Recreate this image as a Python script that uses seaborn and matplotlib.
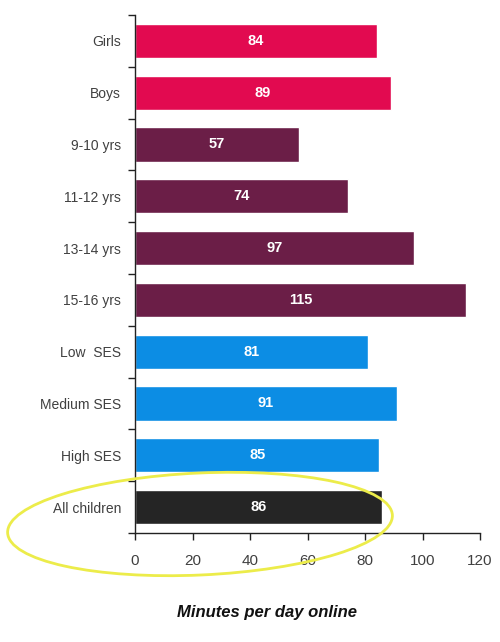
import matplotlib
matplotlib.use("Agg")
import matplotlib.pyplot as plt
from matplotlib.patches import Ellipse
import seaborn as sns
import pandas as pd

categories = ["Girls", "Boys", "9-10 yrs", "11-12 yrs", "13-14 yrs", "15-16 yrs",
              "Low  SES", "Medium SES", "High SES", "All children"]
minutes = [84, 89, 57, 74, 97, 115, 81, 91, 85, 86]
groups = ["Gender", "Gender", "Age", "Age", "Age", "Age", "SES", "SES", "SES", "All"]
group_colors = {"Gender": "#e20a50", "Age": "#6b1e47", "SES": "#0c8de4", "All": "#252525"}
x_ticks = [0, 20, 40, 60, 80, 100, 120]

df = pd.DataFrame({"category": categories, "minutes": minutes, "group": groups})

sns.set_style("white")
plt.rcParams["font.family"] = ["Liberation Sans", "DejaVu Sans"]

fig = plt.figure(figsize=(5.0, 6.42), dpi=100)
ax = fig.add_axes([0.27, 0.1698, 0.69, 0.807])

sns.barplot(data=df, x="minutes", y="category", hue="group", palette=group_colors,
            dodge=False, width=0.66, orient="h", legend=False, ax=ax,
            saturation=1, order=categories)

for cont in ax.containers:
    ax.bar_label(cont, label_type="center", color="white", fontsize=10.5,
                 fontweight="bold")

ax.set_xlim(0, 120)
ax.set_ylim(len(categories) - 0.5, -0.5)
ax.set_xticks(x_ticks)
ax.set_xticklabels([str(t) for t in x_ticks], color="#404040", fontsize=11)
ax.set_yticks(range(len(categories)))
ax.set_yticklabels(categories, color="#404040", fontsize=10)
ax.tick_params(axis="y", which="major", left=True, length=0, pad=10)
# category separators on the value axis
ax.set_yticks([i - 0.5 for i in range(len(categories) + 1)], minor=True)
ax.tick_params(axis="y", which="minor", left=True, length=5, width=1,
               color="#222222", direction="out")
ax.tick_params(axis="x", which="major", bottom=True, length=5, width=1,
               color="#222222", direction="out", pad=10)
ax.set_xlabel("")
ax.set_ylabel("")

for side in ("top", "right"):
    ax.spines[side].set_visible(False)
for side in ("left", "bottom"):
    ax.spines[side].set_color("#222222")
    ax.spines[side].set_linewidth(1.0)

fig.text(267 / 500, 1 - 612 / 642, "Minutes per day online", ha="center", va="center",
         fontsize=12, fontweight="bold", fontstyle="italic", color="#111111")

# highlight ring around the overall figure
ring = Ellipse((200 / 500, 1 - 524 / 642), width=385 / 500, height=102 / 642, angle=2,
               transform=fig.transFigure, fill=False, edgecolor="#ecec4a", linewidth=2.0,
               clip_on=False)
fig.patches.append(ring)

fig.savefig("out.png", dpi=100)
